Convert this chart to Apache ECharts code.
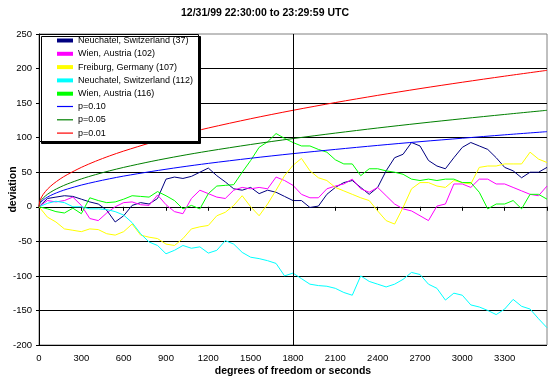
<!DOCTYPE html>
<html><head><meta charset="utf-8">
<script src="https://cdn.jsdelivr.net/npm/echarts@6/dist/echarts.min.js"></script>
<style>html,body{margin:0;padding:0;background:#fff}#c{width:554px;height:385px}</style>
</head><body><div id="c"></div><script>
const titleText = '12/31/99 22:30:00 to 23:29:59 UTC';
const xTitle = 'degrees of freedom or seconds';
const yTitle = 'deviation';
const seriesNames = ['Neuchatel, Switzerland (37)','Wien, Austria (102)','Freiburg, Germany (107)','Neuchatel, Switzerland (112)','Wien, Austria (116)'];
const pNames = ['p=0.10','p=0.05','p=0.01'];

const seconds = [0,60,120,180,240,300,360,420,480,540,600,660,720,780,840,900,960,1020,1080,1140,1200,1260,1320,1380,1440,1500,1560,1620,1680,1740,1800,1860,1920,1980,2040,2100,2160,2220,2280,2340,2400,2460,2520,2580,2640,2700,2760,2820,2880,2940,3000,3060,3120,3180,3240,3300,3360,3420,3480,3540,3600];
const neuchatel37 = [0,12,14,16,15,11,7,4,-5,-22,-13,2,6,4,12,40,43,41,44,50,56,45,36,26,24,28,19,24,21,15,9,9,-1,1,18,28,35,38,28,18,28,52,71,76,93,88,67,59,55,71,86,93,88,83,71,57,52,42,50,50,57];
const wien102 = [0,9,7,9,14,2,-17,-20,-9,0,6,7,3,2,17,3,-7,-10,12,24,19,14,12,24,28,26,28,26,43,38,31,18,13,13,26,30,33,40,26,21,28,16,4,-3,-6,-13,-20,1,4,33,33,28,40,40,33,33,28,23,18,16,30];
const freiburg107 = [0,-15,-22,-32,-34,-36,-32,-33,-39,-41,-36,-25,-41,-44,-46,-54,-56,-46,-32,-29,-27,-13,-8,2,16,0,-13,4,24,45,60,70,52,42,38,28,23,18,13,9,-6,-20,-25,-1,26,35,35,30,28,38,35,33,57,59,59,62,62,62,79,69,64];
const neuchatel112 = [0,5,8,6,0,0,-3,-3,-4,-7,-12,-23,-39,-51,-56,-68,-63,-56,-60,-58,-67,-63,-49,-54,-66,-73,-75,-78,-82,-100,-96,-104,-112,-114,-115,-118,-124,-128,-100,-108,-112,-116,-112,-105,-95,-98,-112,-118,-135,-125,-128,-142,-145,-150,-156,-148,-134,-144,-148,-162,-175];
const wien116 = [0,-3,-7,-9,-2,-10,13,9,6,7,11,16,15,14,22,16,9,-3,2,-3,19,30,31,32,50,67,86,94,106,99,93,88,88,83,79,68,62,62,45,55,55,52,50,47,40,38,40,38,40,40,35,35,21,-3,4,4,9,-3,18,18,11];

const curveSeconds = [0,5,15,30,60,100,150,200,300,400,500,600,800,1000,1200,1500,1800,2100,2400,2700,3000,3300,3600];
const p10 = [0,4.1,7.0,9.9,14.0,18.1,22.2,25.6,31.4,36.2,40.5,44.4,51.2,57.3,62.8,70.2,76.9,83.0,88.8,94.2,99.2,104.1,108.7];
const p05 = [0,5.2,9.0,12.7,18.0,23.3,28.5,32.9,40.3,46.5,52.0,57.0,65.8,73.6,80.6,90.1,98.7,106.6,114.0,120.9,127.4,133.6,139.6];
const p01 = [0,7.4,12.7,18.0,25.5,32.9,40.3,46.5,57.0,65.8,73.6,80.6,93.1,104.0,114.0,127.4,139.6,150.8,161.2,171.0,180.2,189.0,197.4];

const walkColors = ['#000080','#FF00FF','#FFFF00','#00FFFF','#00FF00'];
const pColors = ['#0000FF','#008000','#FF0000'];
const FONT = 'Arial, "Liberation Sans", sans-serif';

const walks = [neuchatel37, wien102, freiburg107, neuchatel112, wien116];
const pVals = [p10, p05, p01];

const series = [];
walks.forEach((vals, k) => {
  series.push({
    name: seriesNames[k], type: 'line', symbol: 'none', silent: true,
    data: seconds.map((t, i) => [t, vals[i]]),
    lineStyle: {color: walkColors[k], width: 1}, itemStyle: {color: walkColors[k]}, z: 2
  });
});
pVals.forEach((vals, k) => {
  series.push({
    name: pNames[k], type: 'line', symbol: 'none', silent: true, smooth: 0.3,
    data: curveSeconds.map((t, i) => [t, vals[i]]),
    lineStyle: {color: pColors[k], width: 1}, itemStyle: {color: pColors[k]}, z: 2
  });
});
series[0].markLine = {
  silent: true, symbol: 'none', label: {show: false},
  lineStyle: {color: '#000', width: 1, type: 'solid'},
  data: [{xAxis: 1800}]
};

const chart = echarts.init(document.getElementById('c'), null, {renderer: 'canvas'});
chart.setOption({
  animation: false,
  backgroundColor: '#fff',
  grid: {left: 39, right: 7, top: 34, bottom: 40, containLabel: false, outerBoundsMode: 'none',
         show: true, borderColor: '#808080', borderWidth: 1, backgroundColor: 'transparent'},
  xAxis: {
    type: 'value', min: 0, max: 3600, interval: 300,
    name: xTitle, nameLocation: 'middle', nameGap: 21, nameMoveOverlap: false,
    nameTextStyle: {fontFamily: FONT, fontSize: 10.5, fontWeight: 'bold', color: '#000'},
    axisLine: {lineStyle: {color: '#000', width: 1}},
    axisTick: {show: true, length: 4, inside: false, lineStyle: {color: '#000'}},
    axisLabel: {fontFamily: FONT, fontSize: 9.5, color: '#000', margin: 8,
      formatter: v => (v >= 3600 ? '' : String(v))},
    splitLine: {show: false}
  },
  yAxis: {
    type: 'value', min: -200, max: 250, interval: 50,
    name: yTitle, nameLocation: 'middle', nameGap: 20, nameRotate: 90, nameMoveOverlap: false,
    nameTextStyle: {fontFamily: FONT, fontSize: 10.5, fontWeight: 'bold', color: '#000'},
    axisLine: {lineStyle: {color: '#000', width: 1}},
    axisTick: {show: true, length: 3, inside: false, lineStyle: {color: '#000'}},
    axisLabel: {fontFamily: FONT, fontSize: 9.5, color: '#000', margin: 7},
    splitLine: {show: true, showMaxLine: false, lineStyle: {color: '#000', width: 1}}
  },
  graphic: [
    {type: 'text', x: 265, y: 13, z: 10,
     style: {text: titleText, font: 'bold 10.5px ' + FONT, fill: '#000', textAlign: 'center', textVerticalAlign: 'middle'}},
    {type: 'rect', x: 39.5, y: 34.5, z: 3, shape: {width: 159, height: 107},
     style: {fill: '#fff', stroke: '#000', lineWidth: 1, shadowColor: '#000', shadowOffsetX: 2, shadowOffsetY: 2, shadowBlur: 0}}
  ],
  legend: [
    {data: seriesNames.map(n => ({name: n, icon: 'rect'})), orient: 'vertical', left: 57, top: 34, padding: 0,
     itemWidth: 16, itemHeight: 4, itemGap: 0.3, z: 20, selectedMode: false,
     textStyle: {fontFamily: FONT, fontSize: 9, color: '#000', lineHeight: 13}},
    {data: pNames.map(n => ({name: n, icon: 'rect'})), orient: 'vertical', left: 57, top: 100, padding: 0,
     itemWidth: 16, itemHeight: 1.2, itemGap: 0.3, z: 20, selectedMode: false,
     textStyle: {fontFamily: FONT, fontSize: 9, color: '#000', lineHeight: 13}}
  ],
  series: series
});
</script></body></html>
